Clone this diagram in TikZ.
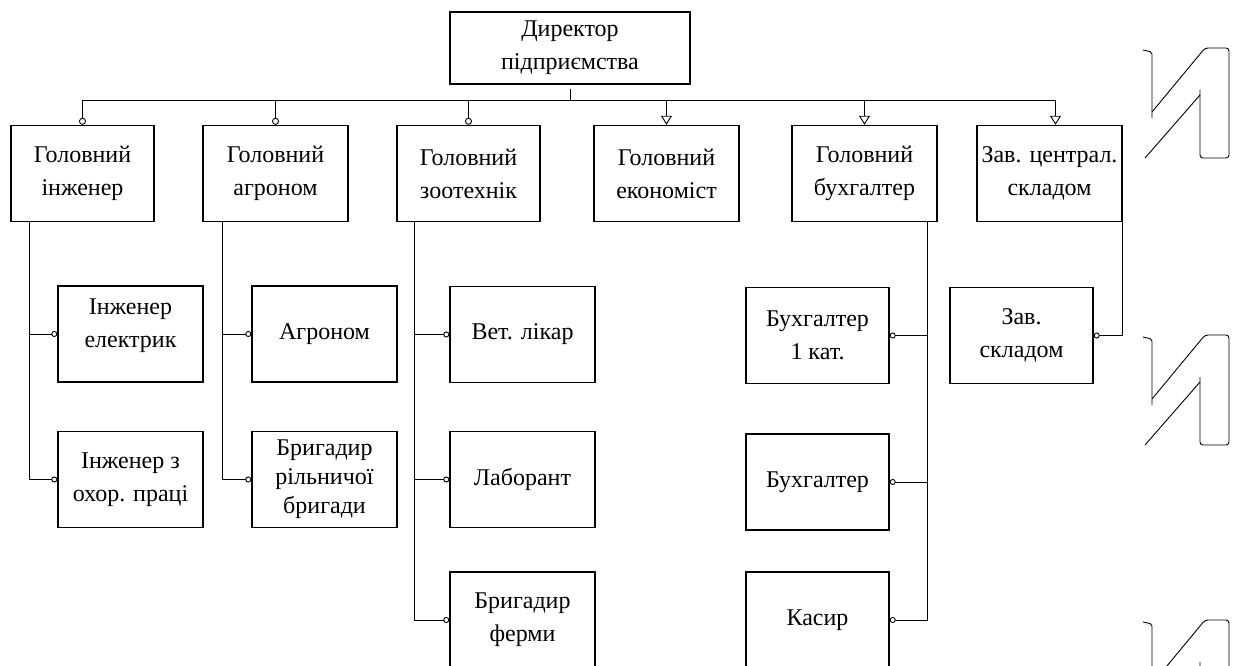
\documentclass[tikz,border=0pt]{standalone}
\usepackage{fontspec}
\setmainfont{Liberation Serif}
\usetikzlibrary{arrows.meta}
\begin{document}
\begin{tikzpicture}[x=1pt,y=-1pt,
  unit/.style={draw, line width=1.4pt, inner sep=0pt, align=center, minimum width=145pt, minimum height=96pt, font=\fontsize{24}{33}\selectfont},
  link/.style={line width=0.9pt},
  ring/.style={link, -{Circle[open, length=7pt, width=7pt]}},
  cone/.style={link, -{Triangle[open, length=9pt, width=11pt]}},
  knob/.style={link, -{Circle[open, length=6pt, width=6pt]}}]
\useasboundingbox (0,0) rectangle (1237,666);
\node[unit, minimum width=240pt, minimum height=72pt] (dir) at (570,48) {Директор\\підприємства};
\node[unit, minimum width=143pt] (hd1) at (82.5,173.5) {Головний\\інженер};
\node[unit] (hd2) at (275.5,173.5) {Головний\\агроном};
\node[unit, minimum width=143pt] (hd3) at (468.5,173.5) {Головний\\зоотехнік};
\node[unit] (hd4) at (666.5,173.5) {Головний\\економіст};
\node[unit] (hd5) at (864.5,173.5) {Головний\\бухгалтер};
\node[unit] (hd6) at (1049.5,173.5) {Зав. централ.\\складом};
\node[unit] (st11) at (130.5,334) {Інженер\\електрик\vphantom{p}\\[-12pt]};
\node[unit] (st12) at (130.5,479.5) {Інженер з\\охор. праці};
\node[unit] (st21) at (324.5,334) {Агроном};
\node[unit, font=\fontsize{24}{29}\selectfont] (st22) at (324.5,479.5) {Бригадир\\рільничої\\бригади};
\node[unit] (st31) at (522.5,334.5) {Вет. лікар};
\node[unit] (st32) at (522.5,479.5) {Лаборант};
\node[unit] (st33) at (522.5,620) {Бригадир\\ферми};
\node[unit, minimum width=143pt] (st51) at (817.5,335.5) {Бухгалтер\\1 кат.};
\node[unit, minimum width=143pt] (st52) at (817.5,482) {Бухгалтер};
\node[unit, minimum width=143pt] (st53) at (817.5,620) {Касир};
\node[unit, minimum width=143pt] (st61) at (1021.5,335.5) {Зав.\\складом};
\coordinate (bus) at (570,100);
\coordinate (top6) at ([xshift=6pt]hd6.north);
\draw[link] (hd1.north |- bus) -- (top6 |- bus);
\draw[link, shorten <=4pt] (dir.south) -- (dir.south |- bus);
\foreach \n in {1,2,3}
  \draw[ring] (hd\n.north |- bus) -- (hd\n.north);
\foreach \n in {4,5}
  \draw[cone] (hd\n.north |- bus) -- (hd\n.north);
\draw[cone] (top6 |- bus) -- (top6);
\coordinate (sp1) at ([xshift=19pt]hd1.south west);
\coordinate (sp2) at ([xshift=20pt]hd2.south west);
\coordinate (sp3) at ([xshift=18pt]hd3.south west);
\coordinate (sp5) at ([xshift=-10pt]hd5.south east);
\draw[knob] (sp1) |- (st12.west);
\draw[knob] (sp1 |- st11.west) -- (st11.west);
\draw[knob] (sp2) |- (st22.west);
\draw[knob] (sp2 |- st21.west) -- (st21.west);
\draw[knob] (sp3) |- (st33.west);
\draw[knob] (sp3 |- st31.west) -- (st31.west);
\draw[knob] (sp3 |- st32.west) -- (st32.west);
\draw[knob] (sp5) |- (st53.east);
\draw[knob] (sp5 |- st51.east) -- (st51.east);
\draw[knob] (sp5 |- st52.east) -- (st52.east);
\draw[knob] (hd6.south east) |- (st61.east);
\foreach \dy in {0,287,572} {
  \draw[line width=0.9pt, rounded corners=2pt, shift={(0,\dy)}] (1143,50) -- (1152,52) -- (1152,118);
  \draw[line width=0.9pt, rounded corners=3pt, shift={(0,\dy)}] (1152,112) -- (1205,48) -- (1229,48) -- (1229,158) -- (1200,158) -- (1200,90);
  \draw[line width=0.9pt, shift={(0,\dy)}] (1200,95) -- (1145,158);
}
\end{tikzpicture}
\end{document}
